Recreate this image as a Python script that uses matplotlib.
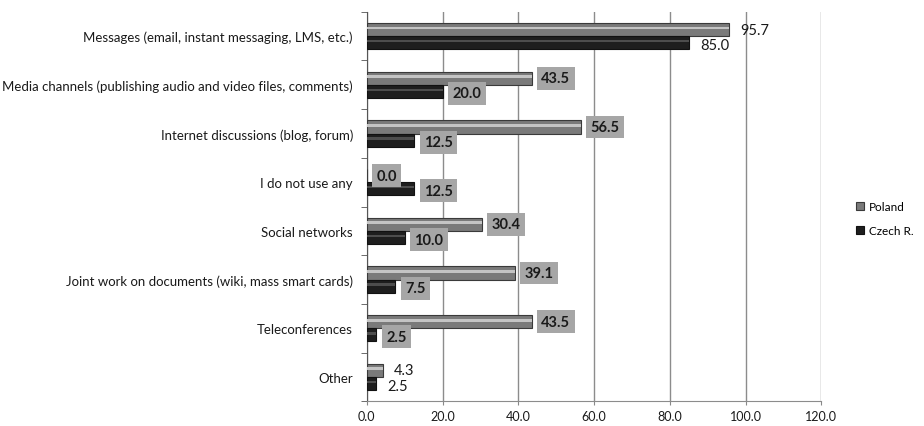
import numpy as np
import matplotlib.pyplot as plt

plt.rcParams['font.family'] = ['Lato', 'DejaVu Sans']

categories = [
    "Messages (email, instant messaging, LMS, etc.)",
    "Media channels (publishing audio and video files, comments)",
    "Internet discussions (blog, forum)",
    "I do not use any",
    "Social networks",
    "Joint work on documents (wiki, mass smart cards)",
    "Teleconferences",
    "Other",
]
poland = [95.7, 43.5, 56.5, 0.0, 30.4, 39.1, 43.5, 4.3]
czech = [85.0, 20.0, 12.5, 12.5, 10.0, 7.5, 2.5, 2.5]
# labels drawn without a grey box
plain_labels = {0, 7}

fig = plt.figure(figsize=(9.24, 4.27), dpi=100)
ax = fig.add_axes([0.397, 0.058, 0.492, 0.912])

y = np.arange(len(categories))
h = 0.27
y_pl = y - h / 2
y_cz = y + h / 2

# base bars
ax.barh(y_pl, poland, height=h, color='#7a7a7a', edgecolor='#3a3a3a', linewidth=0.8, label='Poland', zorder=3)
ax.barh(y_cz, czech, height=h, color='#1e1e1e', edgecolor='#111111', linewidth=0.8, label='Czech R.', zorder=3)
# highlight stripes to mimic the cylinder look
ax.barh(y_pl - h * 0.12, poland, height=h * 0.22, color='#c4c4c4', linewidth=0, zorder=4)
ax.barh(y_cz - h * 0.12, czech, height=h * 0.2, color='#4d4d4d', linewidth=0, zorder=4)

box = dict(boxstyle='square,pad=0.3', fc='#a6a6a6', ec='none')
for i in range(len(categories)):
    for val, yy, dy in ((poland[i], y_pl[i], 0), (czech[i], y_cz[i], -1.5)):
        if i in plain_labels:
            ax.annotate(f"{val:.1f}", (val, yy), xytext=(8, dy), textcoords='offset points',
                        va='center', ha='left', fontsize=10.5, color='#1a1a1a', zorder=5)
        else:
            ax.annotate(f"{val:.1f}", (val, yy), xytext=(7, dy), textcoords='offset points',
                        va='center', ha='left', fontsize=10.5, fontweight='bold', color='#1a1a1a',
                        bbox=box, zorder=5)

ax.set_xlim(0, 120)
ax.set_ylim(7.5, -0.5)
ax.set_xticks(np.arange(0, 121, 20))
ax.set_xticklabels([f"{v:.1f}" for v in np.arange(0, 121, 20)], fontsize=9, color='#1a1a1a')
ax.set_yticks(y)
ax.set_yticklabels(categories, fontsize=9.5, color='#1a1a1a')
ax.set_yticks(np.arange(-0.5, 8, 1), minor=True)
ax.tick_params(axis='y', which='major', length=0, pad=10)
ax.tick_params(axis='y', which='minor', length=4, color='#555555')
ax.tick_params(axis='x', length=3, color='#888888', pad=3)
ax.grid(axis='x', color='#8c8c8c', linewidth=1, zorder=0)
ax.set_axisbelow(True)
for s in ('top', 'right'):
    ax.spines[s].set_visible(False)
ax.spines['left'].set_color('#555555')
ax.spines['bottom'].set_color('#8c8c8c')

handles, labels = ax.get_legend_handles_labels()
fig.legend(handles[:2], labels[:2], loc='center left', bbox_to_anchor=(0.926, 0.485),
           frameon=False, fontsize=8.5, handlelength=0.7, handleheight=0.7,
           labelspacing=1.1, handletextpad=0.4, borderpad=0, borderaxespad=0)

fig.savefig('out.png', dpi=100)
